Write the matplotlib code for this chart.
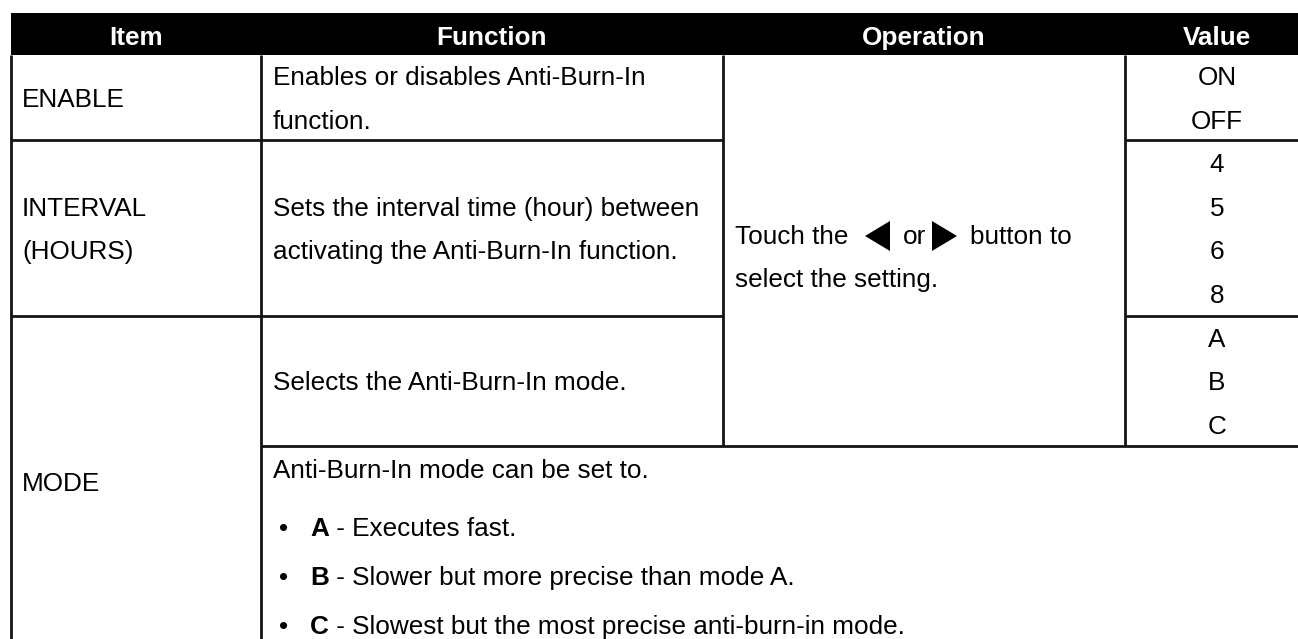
import matplotlib
matplotlib.use("Agg")
import matplotlib.pyplot as plt
from matplotlib.patches import Rectangle, Polygon

# ---- table content ----
headers = ["Item", "Function", "Operation", "Value"]
items = [["ENABLE"], ["INTERVAL", "(HOURS)"], ["MODE"]]
functions = [["Enables or disables Anti-Burn-In", "function."],
             ["Sets the interval time (hour) between", "activating the Anti-Burn-In function."],
             ["Selects the Anti-Burn-In mode."]]
operation_parts = ["Touch the", "or", "button to"]
operation_line2 = "select the setting."
enable_values = ["ON", "OFF"]
interval_values = ["4", "5", "6", "8"]
mode_values = ["A", "B", "C"]
mode_intro = "Anti-Burn-In mode can be set to."
mode_bullets = [("A", " - Executes fast."),
                ("B", " - Slower but more precise than mode A."),
                ("C", " - Slowest but the most precise anti-burn-in mode.")]

# ---- layout (pixels) ----
W, H = 1298, 639
col_x = [11, 261, 723, 1125, 1309]
hdr_top, hdr_bot = 12.5, 55
row_y = [55, 140, 316, 446, 648]
line_step = 43.5
FS = 18.8
FONT = "Liberation Sans"
LC = "#141414"
LW = 2.0

fig = plt.figure(figsize=(W / 100, H / 100), dpi=100)
ax = fig.add_axes([0, 0, 1, 1])
ax.set_xlim(0, W)
ax.set_ylim(H, 0)
ax.axis("off")

def txt(x, y, s, ha="left", weight="normal", color="black"):
    return ax.text(x, y, s, ha=ha, va="baseline", fontsize=FS, family=FONT,
                   fontweight=weight, color=color)

# header
ax.add_patch(Rectangle((col_x[0], hdr_top), W - col_x[0] + 20, hdr_bot - hdr_top,
                       facecolor="black", edgecolor="none"))
for i, h in enumerate(headers):
    cx = (col_x[i] + col_x[i + 1]) / 2
    txt(cx, 45, h, ha="center", weight="bold", color="white")

# grid lines
def hline(y, x0, x1):
    ax.plot([x0, x1], [y, y], color=LC, lw=LW, solid_capstyle="butt")

def vline(x, y0, y1):
    ax.plot([x, x], [y0, y1], color=LC, lw=LW, solid_capstyle="butt")

vline(col_x[0], hdr_bot, row_y[4])
vline(col_x[1], hdr_bot, row_y[4])
vline(col_x[2], hdr_bot, row_y[3])
vline(col_x[3], hdr_bot, row_y[3])
for y in (row_y[1], row_y[2]):
    hline(y, col_x[0], col_x[2])
    hline(y, col_x[3], W + 5)
hline(row_y[3], col_x[1], W + 5)

cap_half = 9.3
def baselines(y0, y1, n):
    c = (y0 + y1) / 2
    return [c - (n - 1) / 2 * line_step + k * line_step + cap_half for k in range(n)]

# items & functions (rows 0, 1)
for r in range(2):
    for y, s in zip(baselines(row_y[r], row_y[r + 1], len(items[r])), items[r]):
        txt(22, y, s)
    for y, s in zip(baselines(row_y[r], row_y[r + 1], len(functions[r])), functions[r]):
        txt(273, y, s)
# mode row item
txt(22, 491, items[2][0])
for y, s in zip(baselines(row_y[2], row_y[3], 1), functions[2]):
    txt(273, y, s)

# values
vcx = (col_x[3] + col_x[4]) / 2
for (y0, y1), vals in zip([(row_y[0], row_y[1]), (row_y[1], row_y[2]), (row_y[2], row_y[3])],
                          [enable_values, interval_values, mode_values]):
    for y, s in zip(baselines(y0, y1, len(vals)), vals):
        txt(vcx, y, s, ha="center")

# operation
op_b1, op_b2 = 244, 287.5
txt(735, op_b1, operation_parts[0])
txt(903, op_b1, operation_parts[1])
txt(970, op_b1, operation_parts[2])
txt(735, op_b2, operation_line2)
tri_top, tri_bot = 221, 251
tri_mid = (tri_top + tri_bot) / 2
ax.add_patch(Polygon([(865, tri_mid), (890, tri_top), (890, tri_bot)], closed=True,
                     facecolor="black", edgecolor="none"))
ax.add_patch(Polygon([(932, tri_top), (932, tri_bot), (957, tri_mid)], closed=True,
                     facecolor="black", edgecolor="none"))

# mode details
txt(273, 478, mode_intro)
fig.canvas.draw()
renderer = fig.canvas.get_renderer()
inv = ax.transData.inverted()
for k, (b, rest) in enumerate(mode_bullets):
    y = 536 + k * 49
    txt(279, y, "\u2022")
    t = txt(310, y, b, weight="bold")
    ext = t.get_window_extent(renderer)
    x_end = inv.transform((ext.x1, ext.y0))[0]
    txt(x_end, y, rest)

fig.savefig("out.png", dpi=100)
